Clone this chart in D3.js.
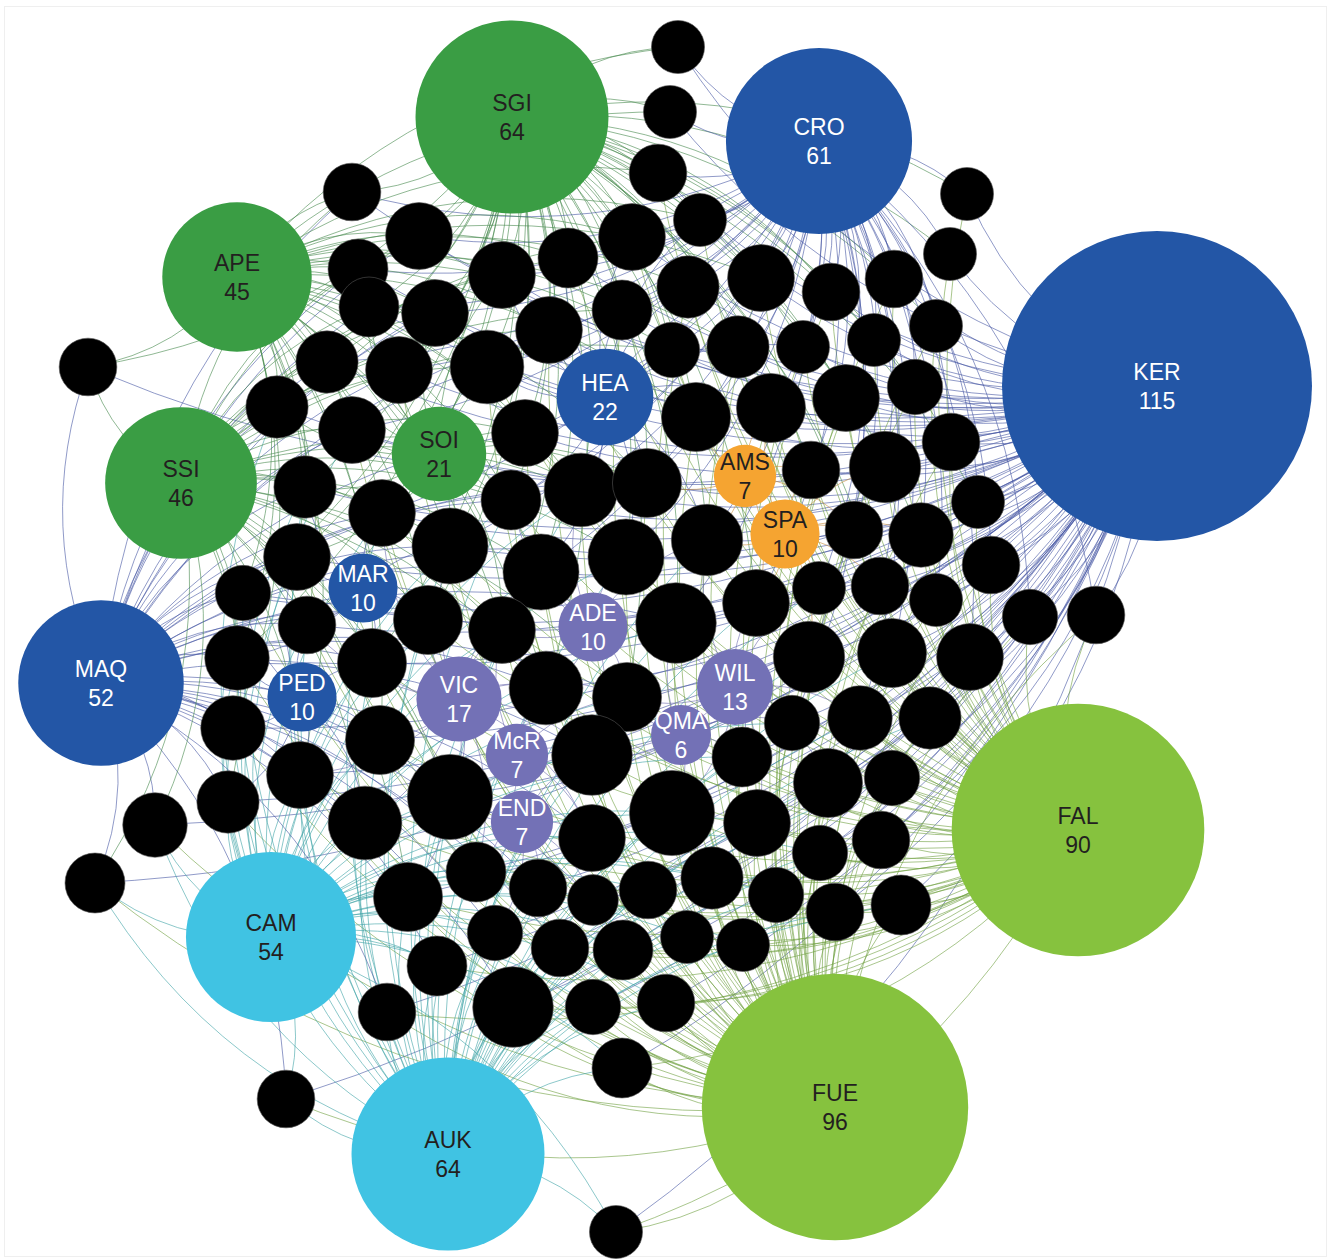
<html>
<head>
    <title>Site network</title>
    <style>
        body { margin: 0; background: #fff; }
        svg { display: block; }
    </style>
</head>
<body>
    <script src="https://d3js.org/d3.v7.min.js"></script>
    <script>
        // labelled sites: name, number of linked species, group, layout position
        var siteNames  = ["KER", "FUE", "FAL", "SGI", "AUK", "CRO", "CAM", "MAQ", "SSI", "APE", "HEA",
                          "SOI", "VIC", "WIL", "MAR", "PED", "ADE", "SPA", "AMS", "McR", "END", "QMA"];
        var siteCounts = [115, 96, 90, 64, 64, 61, 54, 52, 46, 45, 22, 21, 17, 13, 10, 10, 10, 10, 7, 7, 7, 6];
        var siteGroups = ["blue", "lime", "lime", "green", "sky", "blue", "sky", "blue", "green", "green", "blue",
                          "green", "purple", "purple", "blue", "blue", "purple", "orange", "orange", "purple", "purple", "purple"];
        var siteX = [1157, 835, 1078, 512, 448, 819, 271, 101, 181, 237, 605, 439, 459, 735, 363, 302, 593, 785, 745, 517, 522, 681];
        var siteY = [386, 1107, 830, 117, 1154, 141, 937, 683, 483, 277, 397, 454, 699, 687, 588, 697, 627, 534, 476, 755, 822, 735];

        // unlabelled nodes (black): layout position and degree
        var nodeX = [678, 670, 658, 700, 352, 967, 950, 419, 502, 568, 632, 688, 761, 831, 894, 358, 369, 435, 327, 399,
                     277, 352, 549, 487, 622, 672, 738, 803, 874, 305, 382, 297, 450, 243, 307, 428, 237, 372, 233, 380,
                     450, 300, 228, 155, 365, 88, 95, 408, 437, 387, 286, 476, 538, 593, 648, 712, 776, 835, 901, 495,
                     560, 623, 687, 743, 513, 593, 666, 622, 616, 592, 672, 757, 820, 881, 525, 696, 771, 811, 885, 511,
                     581, 647, 541, 626, 707, 854, 756, 819, 880, 502, 676, 809, 892, 546, 627, 792, 860, 592, 742, 828,
                     892, 951, 978, 921, 991, 936, 1030, 1096, 970, 930, 936, 915, 846];
        var nodeY = [47, 112, 173, 220, 192, 194, 254, 236, 275, 258, 237, 287, 278, 292, 279, 269, 307, 313, 362, 370,
                     407, 430, 330, 367, 310, 350, 347, 347, 340, 487, 513, 557, 546, 593, 625, 620, 658, 663, 728, 740,
                     797, 775, 802, 825, 823, 367, 883, 897, 966, 1012, 1099, 872, 888, 900, 890, 878, 895, 912, 905, 933,
                     948, 950, 937, 945, 1007, 1007, 1003, 1068, 1232, 838, 813, 823, 853, 840, 433, 417, 408, 470, 467, 500,
                     490, 483, 572, 557, 540, 530, 603, 588, 586, 630, 623, 657, 653, 688, 697, 723, 718, 755, 757, 783,
                     778, 442, 502, 535, 565, 600, 617, 615, 657, 718, 326, 387, 398];
        var nodeDegree = [3, 3, 5, 3, 5, 3, 3, 9, 9, 6, 9, 7, 9, 5, 5, 6, 6, 9, 7, 9,
                          7, 9, 9, 12, 6, 4, 7, 3, 3, 7, 9, 9, 13, 4, 5, 10, 8, 10, 8, 10,
                          17, 9, 7, 8, 12, 5, 6, 10, 6, 5, 5, 6, 5, 2, 5, 7, 4, 5, 6, 4,
                          5, 6, 3, 3, 15, 4, 5, 6, 3, 9, 17, 9, 4, 5, 9, 10, 10, 5, 11, 6,
                          12, 10, 13, 13, 11, 5, 9, 3, 5, 9, 15, 11, 10, 12, 10, 4, 8, 15, 6, 10,
                          4, 5, 3, 8, 5, 3, 4, 5, 9, 7, 3, 4, 9];

        var width = 1331, height = 1260;
        var fill = { blue: "#2356a6", green: "#3a9d44", lime: "#86c23e", sky: "#40c3e3", purple: "#7371b6", orange: "#f5a431" };
        var edgeColor = { blue: "#4555a2", green: "#44884c", lime: "#6e9f40", sky: "#3ea2a6", purple: "#6d6bae", orange: "#c88d3a" };
        var darkText = { green: true, lime: true, sky: true, orange: true };

        var x = d3.scaleLinear().domain([0, 1331]).range([0, width]);
        var y = d3.scaleLinear().domain([0, 1260]).range([0, height]);
        var r = d3.scaleLinear().domain([0, 115]).range([23.1, 155]);

        var sites = siteNames.map((n, i) => ({ name: n, count: siteCounts[i], group: siteGroups[i], x: siteX[i], y: siteY[i] }));
        var nodes = nodeX.map((v, i) => ({ x: v, y: nodeY[i], degree: nodeDegree[i] }));

        // each site links to as many nearby unlabelled nodes as its count
        var links = [];
        sites.forEach(s => {
            var near = nodes.slice().sort((a, b) =>
                Math.hypot(a.x - s.x, a.y - s.y) - Math.hypot(b.x - s.x, b.y - s.y));
            near.slice(0, s.count).forEach(t => links.push({ source: s, target: t }));
        });

        var svg = d3.select("body").append("svg").attr("width", width).attr("height", height);

        svg.append("rect")
            .attr("x", 4.5).attr("y", 6.5).attr("width", 1322).attr("height", 1250)
            .attr("fill", "none").attr("stroke", "#efefef");

        // curved edges, bent the same way round (gephi style)
        function curve(d) {
            var sx = x(d.source.x), sy = y(d.source.y), tx = x(d.target.x), ty = y(d.target.y);
            var dx = tx - sx, dy = ty - sy;
            var p = d3.path();
            p.moveTo(sx, sy);
            p.quadraticCurveTo((sx + tx) / 2 + dy * 0.2, (sy + ty) / 2 - dx * 0.2, tx, ty);
            return p.toString();
        }

        svg.append("g").selectAll("path").data(links).enter().append("path")
            .attr("d", curve)
            .attr("fill", "none")
            .attr("stroke", d => edgeColor[d.source.group])
            .attr("stroke-width", 0.8)
            .attr("stroke-opacity", 0.75);

        svg.append("g").selectAll("circle").data(nodes).enter().append("circle")
            .attr("cx", d => x(d.x))
            .attr("cy", d => y(d.y))
            .attr("r", d => r(d.degree))
            .attr("fill", "#000")
            .attr("stroke", "#555")
            .attr("stroke-width", 0.6);

        var g = svg.append("g").selectAll("g").data(sites).enter().append("g");

        g.append("circle")
            .attr("cx", d => x(d.x))
            .attr("cy", d => y(d.y))
            .attr("r", d => r(d.count))
            .attr("fill", d => fill[d.group]);

        g.append("text")
            .text(d => d.name)
            .attr("x", d => x(d.x))
            .attr("y", d => y(d.y) - 6);

        g.append("text")
            .text(d => d.count)
            .attr("x", d => x(d.x))
            .attr("y", d => y(d.y) + 23);

        g.selectAll("text")
            .attr("text-anchor", "middle")
            .attr("font-family", "'Liberation Sans', Arial, Helvetica, sans-serif")
            .attr("font-size", "23px")
            .attr("fill", function () { return darkText[d3.select(this.parentNode).datum().group] ? "#231f20" : "#ffffff"; });
    </script>
</body>
</html>
